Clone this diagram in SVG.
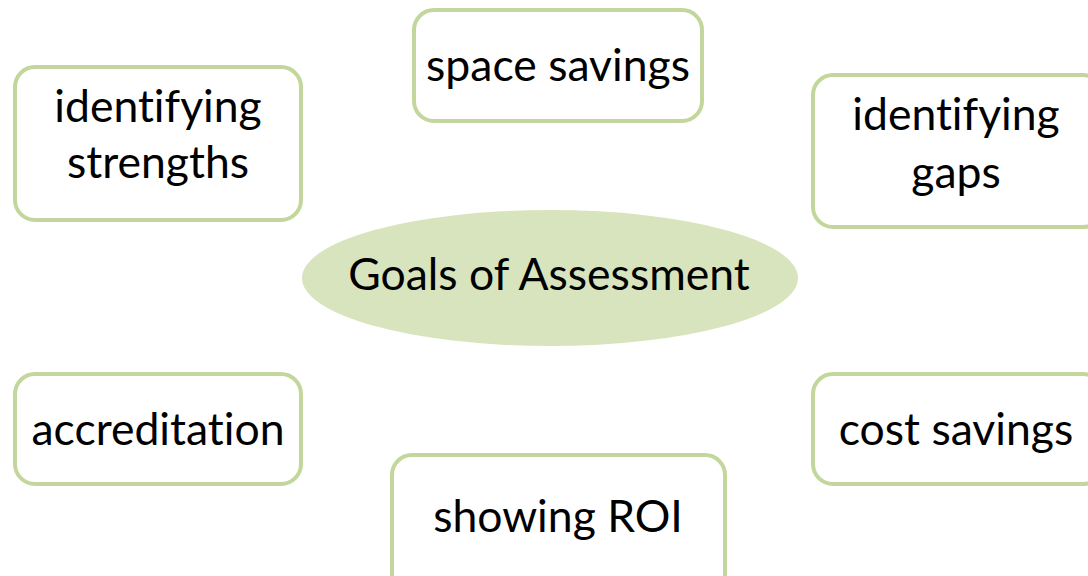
<svg xmlns="http://www.w3.org/2000/svg" width="1088" height="576" viewBox="0 0 1088 576">
<style>
.box{fill:#ffffff;stroke:#c3d69b;stroke-width:4}
.t{font-family:Lato,"Open Sans",sans-serif;font-size:44.5px;fill:#000;text-anchor:middle;font-variant-ligatures:none;font-feature-settings:"liga" 0}
</style>
<rect width="1088" height="576" fill="#ffffff"/>
<g id="connectors"></g>
<g id="center">
<ellipse cx="550" cy="278" rx="248" ry="68" fill="#d7e4bd"/>
<text class="t" x="549" y="290">Goals of Assessment</text>
</g>
<g id="n-strengths">
<rect class="box" x="15" y="67" width="286" height="153" rx="20"/>
<text class="t" x="158" y="122">identifying</text>
<text class="t" x="158" y="178">strengths</text>
</g>
<g id="n-space">
<rect class="box" x="414" y="10" width="288" height="111" rx="20"/>
<text class="t" x="558" y="81">space savings</text>
</g>
<g id="n-gaps">
<rect class="box" x="813" y="75" width="290" height="152" rx="20"/>
<text class="t" x="956" y="130">identifying</text>
<text class="t" x="956" y="188">gaps</text>
</g>
<g id="n-accreditation">
<rect class="box" x="15" y="374" width="286" height="110" rx="20"/>
<text class="t" x="158" y="445">accreditation</text>
</g>
<g id="n-cost">
<rect class="box" x="813" y="374" width="290" height="110" rx="20"/>
<text class="t" x="956" y="445">cost savings</text>
</g>
<g id="n-roi">
<rect class="box" x="392" y="455" width="333" height="140" rx="20"/>
<text class="t" x="558" y="532">showing ROI</text>
</g>
</svg>
